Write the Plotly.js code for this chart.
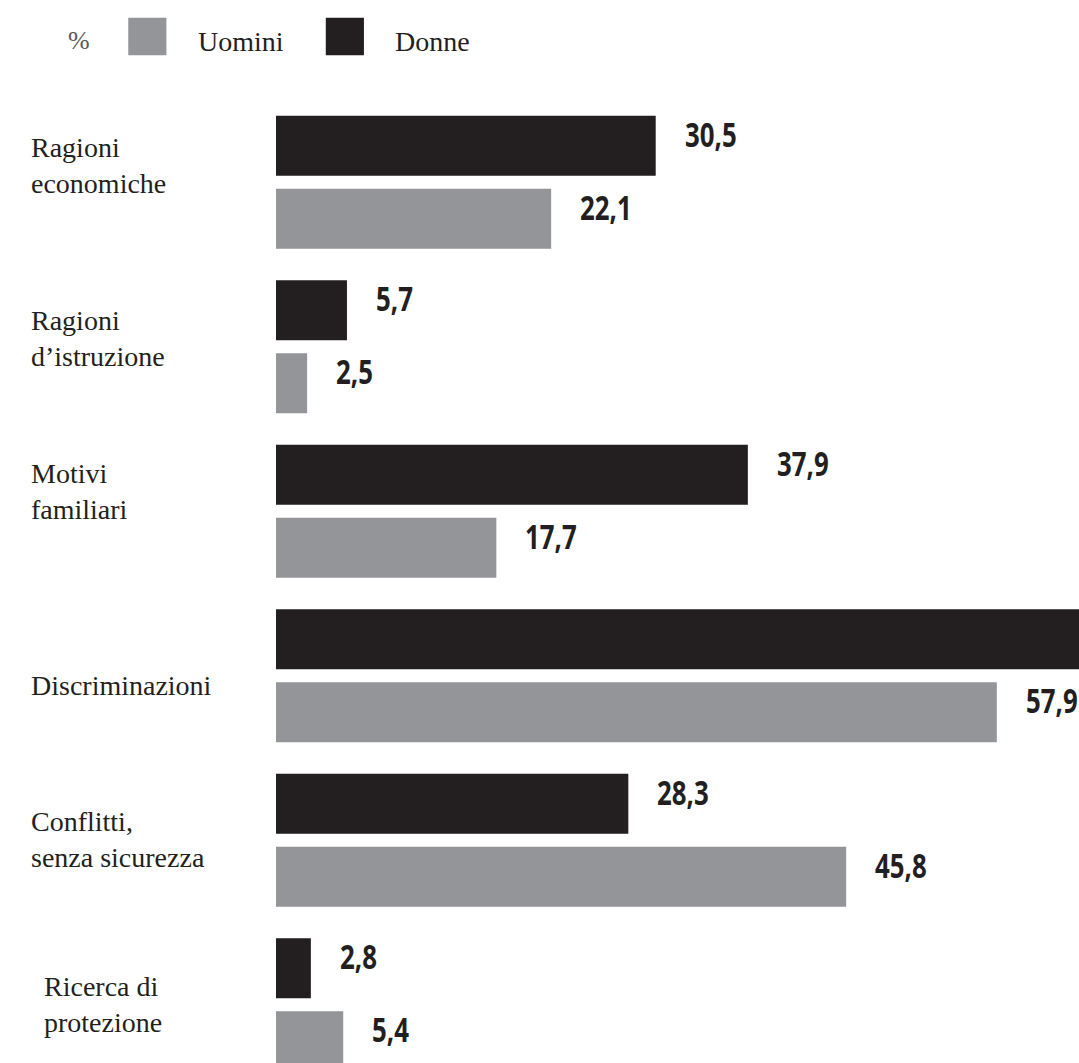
<!DOCTYPE html>
<html>
<head>
<meta charset="utf-8">
<script src="https://cdn.plot.ly/plotly-3.0.1.min.js"></script>
<style>html,body{margin:0;padding:0;background:#fff;}#chart{width:1079px;height:1063px;}</style>
</head>
<body>
<div id="chart"></div>
<script>
// ---- data ----
const categories = ["Ragioni<br>economiche", "Ragioni<br>d’istruzione", "Motivi<br>familiari", "Discriminazioni", "Conflitti,<br>senza sicurezza", "Ricerca di<br>protezione"];
const donne = [30.5, 5.7, 37.9, 65.8, 28.3, 2.8];
const uomini = [22.1, 2.5, 17.7, 57.9, 45.8, 5.4];
const seriesNames = ["Donne", "Uomini"];
const legendUnit = "%";

// ---- style ----
const BLACK = "#231f20", GRAY = "#939598", TXT = "#231f20";
const serif = "Liberation Serif, Times New Roman, serif";
const narrow = "Open Sans, Roboto, DejaVu Sans, sans-serif";
const X_MAX = 64.5;
const BARGAP = 0.112, BARGROUPGAP = 0.178;
const labelShiftPx = [17, 8, 20, -10, 1, 0];   // vertical nudges of category labels
const labelLeft = [-0.307, -0.307, -0.307, -0.307, -0.307, -0.291];
const fmt = v => v.toFixed(1).replace(".", ",");
const idx = categories.map((c, i) => i);

const traces = [
  {type: "bar", orientation: "h", name: seriesNames[0], y: idx, x: donne,
   marker: {color: BLACK}, hoverinfo: "skip", showlegend: false},
  {type: "bar", orientation: "h", name: seriesNames[1], y: idx, x: uomini,
   marker: {color: GRAY}, hoverinfo: "skip", showlegend: false}
];

const half = (1 - BARGAP) / 4; // offset of each bar centre from category centre
const annotations = [];
categories.forEach((c, i) => {
  annotations.push({xref: "paper", yref: "y", x: labelLeft[i], y: i, yshift: labelShiftPx[i],
    xanchor: "left", yanchor: "middle",
    align: "left", text: c, showarrow: false, font: {family: serif, size: 28, color: TXT}});
});
[[donne, -half], [uomini, half]].forEach(([vals, off]) => {
  vals.forEach((v, i) => {
    if (v > X_MAX) return;
    annotations.push({xref: "x", yref: "y", x: v, y: i + off, xanchor: "left", yanchor: "middle",
      xshift: 27, yshift: 12, text: fmt(v), showarrow: false,
      font: {family: narrow, size: 34, color: TXT, weight: 700}});
  });
});
// legend (custom, large swatches)
annotations.push({xref: "paper", yref: "paper", x: -0.262, y: 1.062, xanchor: "left", yanchor: "middle",
  text: legendUnit, showarrow: false, font: {family: serif, size: 26, color: "#58595b"}});
annotations.push({xref: "paper", yref: "paper", x: -0.1, y: 1.0605, xanchor: "left", yanchor: "middle",
  text: seriesNames[1], showarrow: false, font: {family: serif, size: 28, color: TXT}});
annotations.push({xref: "paper", yref: "paper", x: 0.146, y: 1.0605, xanchor: "left", yanchor: "middle",
  text: seriesNames[0], showarrow: false, font: {family: serif, size: 28, color: TXT}});

const shapes = [
  {type: "rect", xref: "paper", yref: "paper", x0: -0.184, x1: -0.1365, y0: 1.0465, y1: 1.0855,
   fillcolor: GRAY, line: {width: 0}},
  {type: "rect", xref: "paper", yref: "paper", x0: 0.062, x1: 0.1095, y0: 1.0465, y1: 1.0855,
   fillcolor: BLACK, line: {width: 0}}
];

const layout = {
  width: 1079, height: 1063,
  margin: {l: 276, r: 0, t: 100, b: 0, pad: 0},
  paper_bgcolor: "#fff", plot_bgcolor: "#fff",
  barmode: "group", bargap: BARGAP, bargroupgap: BARGROUPGAP,
  xaxis: {range: [0, X_MAX], showgrid: false, zeroline: false, showticklabels: false, ticks: "", showline: false, fixedrange: true},
  yaxis: {range: [5.354, -0.5], showgrid: false, zeroline: false, showticklabels: false, ticks: "", showline: false, fixedrange: true},
  showlegend: false,
  annotations: annotations,
  shapes: shapes
};

Plotly.newPlot("chart", traces, layout, {displayModeBar: false, staticPlot: true}).then(() => {
  // condense the value labels horizontally (no condensed face installed)
  document.querySelectorAll("#chart .annotation-text").forEach(t => {
    if (/^\d+,\d$/.test(t.textContent.trim())) {
      t.style.transformBox = "fill-box";
      t.style.transformOrigin = "left center";
      t.style.transform = "scaleX(0.76)";
    }
  });
});
</script>
</body>
</html>
